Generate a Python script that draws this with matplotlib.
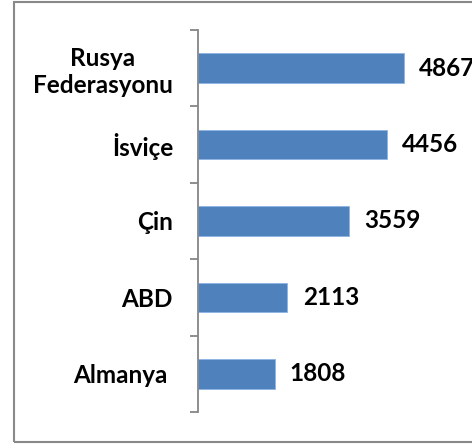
import numpy as np
import matplotlib.pyplot as plt
from matplotlib.patches import Rectangle

ulkeler = ['Almanya ', 'ABD', 'Çin', 'İsviçe', 'Rusya\nFederasyonu']
degerler = [1808, 2113, 3559, 4456, 4867]

plt.rcParams['font.family'] = ['Lato', 'DejaVu Sans']

fig = plt.figure(figsize=(4.72, 4.44), dpi=100)
ax = fig.add_axes([198 / 472, 32 / 444, 274 / 472, 382 / 444])

y = np.arange(len(ulkeler))
ax.barh(y, degerler, height=0.39, color='#4F81BD', edgecolor='#8EB4E3', linewidth=0.6)

for yi, v in zip(y, degerler):
    ax.text(v + 360, yi, str(v), va='center', ha='left',
            fontsize=17.5, fontweight='bold', color='black')

ax.set_xlim(0, 6473)
ax.set_ylim(-0.5, len(ulkeler) - 0.5)

ax.set_yticks(y)
ax.set_yticklabels(ulkeler, fontsize=17.5, fontweight='bold', multialignment='center')
ax.tick_params(axis='y', which='major', length=0, pad=18)
ax.set_yticks(np.arange(-0.5, len(ulkeler)), minor=True)
ax.tick_params(axis='y', which='minor', length=6, width=1.3, color='#868686', direction='out')
ax.set_xticks([])

for s in ['top', 'right', 'bottom']:
    ax.spines[s].set_visible(False)
ax.spines['left'].set_color('#868686')
ax.spines['left'].set_linewidth(1.3)

# dış çerçeve
fig.patches.append(Rectangle((14 / 472, 2 / 444), 1.0, 440 / 444, transform=fig.transFigure,
                             fill=False, edgecolor='#898989', linewidth=1.5))

fig.savefig('out.png', dpi=100)
